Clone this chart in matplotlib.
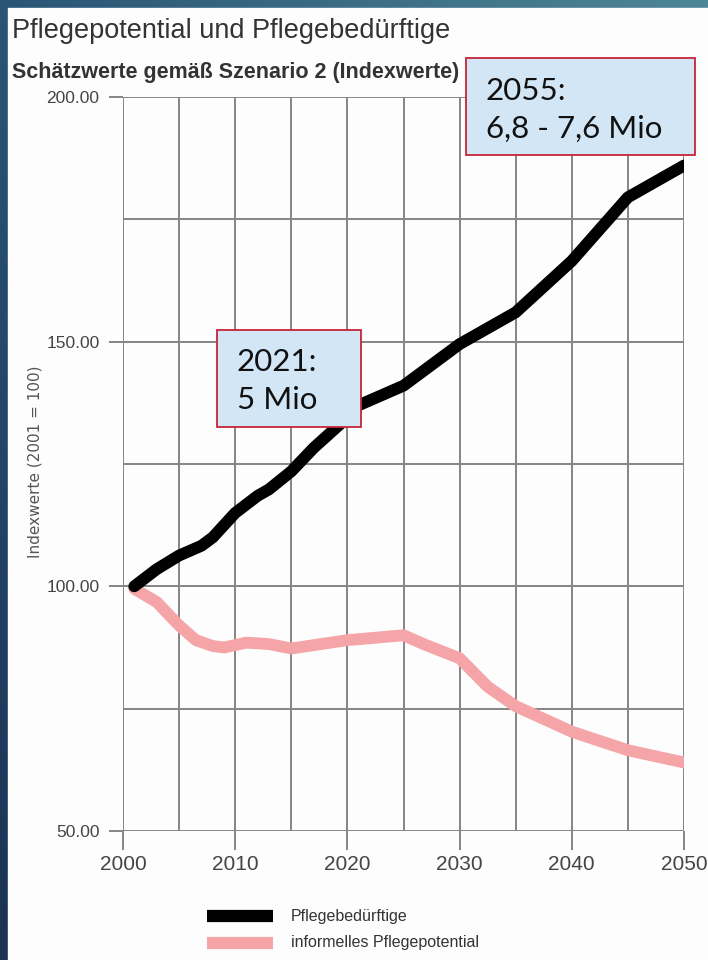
import numpy as np
import matplotlib
matplotlib.use("Agg")
import matplotlib.pyplot as plt
from matplotlib.patches import Rectangle
from matplotlib.lines import Line2D

# ---- data ----
years_pb = [2001, 2003, 2005, 2007, 2008, 2010, 2012, 2013, 2015, 2017, 2020, 2021, 2023, 2025, 2030, 2035, 2040, 2045, 2050]
pflegebeduerftige = [100, 103.5, 106.3, 108.3, 110, 115, 118.5, 119.8, 123.5, 128.3, 134.5, 137, 139, 141, 149.5, 156, 166.5, 179.5, 186]

years_ip = [2001, 2003, 2005, 2006.5, 2008, 2009, 2011, 2013, 2015, 2020, 2025, 2027, 2030, 2032.5, 2035, 2040, 2045, 2050]
informell = [99.5, 96.8, 92, 89, 87.8, 87.5, 88.5, 88.2, 87.3, 89, 90, 88, 85.3, 79.5, 75.5, 70.3, 66.5, 64]

yticks = [50, 100, 150, 200]
ytick_labels = ["50.00", "100.00", "150.00", "200.00"]
xticks = [2000, 2010, 2020, 2030, 2040, 2050]
series_names = ["Pflegebedürftige", "informelles Pflegepotential"]
series_colors = ["#000000", "#f5a4a7"]
title = "Pflegepotential und Pflegebedürftige"
subtitle = "Schätzwerte gemäß Szenario 2 (Indexwerte)"
ylabel = "Indexwerte (2001 = 100)"
ann1 = "2055:\n6,8 - 7,6 Mio"
ann2 = "2021:\n5 Mio"

W, H = 708, 960
fig = plt.figure(figsize=(W / 100, H / 100), dpi=100)

# background gradient (slide)
bg = fig.add_axes([0, 0, 1, 1])
gx = np.linspace(0, 1, 200)
gy = np.linspace(0, 1, 200)
GX, GY = np.meshgrid(gx, gy)
c_tl = np.array([0x2a, 0x55, 0x75]) / 255
c_tr = np.array([0x4d, 0x86, 0x96]) / 255
c_bl = np.array([0x1b, 0x33, 0x55]) / 255
img = (c_tl[None, None, :] * (1 - GX[..., None]) * (1 - GY[..., None])
       + c_tr[None, None, :] * GX[..., None] * (1 - GY[..., None])
       + c_bl[None, None, :] * GY[..., None])
bg.imshow(img, extent=[0, 1, 0, 1], aspect="auto", origin="upper")
bg.add_patch(Rectangle((8 / W, 0), 1, 1 - 8 / H, color="#fdfdfd"))
bg.set_xlim(0, 1)
bg.set_ylim(0, 1)
bg.axis("off")

FONT = "Liberation Sans"
# titles
fig.text(12 / W, 1 - 38 / H, title, fontsize=19.5, color="#333333",
         family=FONT, va="baseline", ha="left")
fig.text(12 / W, 1 - 78 / H, subtitle, fontsize=15.5, color="#333333",
         family=FONT, weight="bold", va="baseline", ha="left")

# main axes
ax = fig.add_axes([123 / W, 1 - 831 / H, (684 - 123) / W, (831 - 97) / H])
ax.set_facecolor("none")
ax.set_xlim(2000, 2050)
ax.set_ylim(50, 200)
for x in range(2000, 2051, 5):
    ax.axvline(x, color="#858585", lw=1.4, zorder=1)
for y in range(50, 201, 25):
    ax.axhline(y, color="#858585", lw=1.4, zorder=1)
for s in ax.spines.values():
    s.set_visible(False)

ax.plot(years_ip, informell, color=series_colors[1], lw=8.5, solid_joinstyle="round",
        solid_capstyle="round", zorder=3)
ax.plot(years_pb, pflegebeduerftige, color=series_colors[0], lw=8.5, solid_joinstyle="round",
        solid_capstyle="round", zorder=4)

ax.set_yticks(yticks)
ax.set_yticklabels(ytick_labels, fontsize=12.5, color="#444444", family=FONT)
ax.set_xticks(xticks)
ax.set_xticklabels([str(x) for x in xticks], fontsize=15, color="#444444", family=FONT)
ax.tick_params(axis="y", length=10, width=1.4, color="#858585", pad=7)
ax.tick_params(axis="x", length=14, width=1.4, color="#858585", pad=3)

fig.text(35 / W, 1 - 462 / H, ylabel, fontsize=11, color="#555555",
         family="DejaVu Sans", rotation=90, va="center", ha="center")

# legend (manual)
for i, (name, col) in enumerate(zip(series_names, series_colors)):
    yy = 1 - (916 + 27 * i) / H
    fig.add_artist(Line2D([207 / W, 273 / W], [yy, yy], color=col, lw=8.8,
                          transform=fig.transFigure, solid_capstyle="butt"))
    fig.text(291 / W, yy, name, fontsize=11.5, color="#333333",
             family=FONT, va="center", ha="left")

# annotation boxes
def box(x0, y0, x1, y1, text, tx, ty1, ty2):
    fig.add_artist(Rectangle((x0 / W, 1 - y1 / H), (x1 - x0) / W, (y1 - y0) / H,
                             transform=fig.transFigure, facecolor="#d2e6f5",
                             edgecolor="#c8243a", lw=1.3, zorder=10))
    l1, l2 = text.split("\n")
    for t, ty in ((l1, ty1), (l2, ty2)):
        fig.text(tx / W, 1 - ty / H, t, fontsize=22.5, color="#111111",
                 family="Lato", va="baseline", ha="left", zorder=11)

box(466, 58, 695, 155, ann1, 486, 100, 138)
box(217, 330, 361, 427, ann2, 237, 371, 409)

fig.savefig("out.png", dpi=100)
